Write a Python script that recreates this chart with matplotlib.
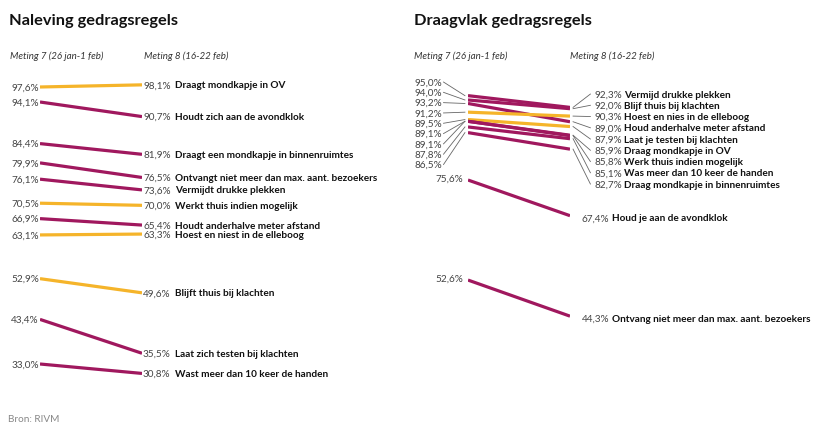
import matplotlib
matplotlib.use("Agg")
import matplotlib.pyplot as plt

plt.rcParams['font.family'] = ['Lato', 'DejaVu Sans']

PURPLE = '#A0185E'
YELLOW = '#F5B42A'
GREY = '#444444'

# Naleving gedragsregels (left panel)
nal_labels = ['Draagt mondkapje in OV', 'Houdt zich aan de avondklok',
              'Draagt een mondkapje in binnenruimtes',
              'Ontvangt niet meer dan max. aant. bezoekers',
              'Vermijdt drukke plekken', 'Werkt thuis indien mogelijk',
              'Houdt anderhalve meter afstand', 'Hoest en niest in de elleboog',
              'Blijft thuis bij klachten', 'Laat zich testen bij klachten',
              'Wast meer dan 10 keer de handen']
nal_m7 = [97.6, 94.1, 84.4, 79.9, 76.1, 70.5, 66.9, 63.1, 52.9, 43.4, 33.0]
nal_m8 = [98.1, 90.7, 81.9, 76.5, 73.6, 70.0, 65.4, 63.3, 49.6, 35.5, 30.8]
nal_kleur = ['y', 'p', 'p', 'p', 'p', 'y', 'p', 'y', 'y', 'p', 'p']

# Draagvlak gedragsregels (right panel)
dv_labels = ['Vermijd drukke plekken', 'Blijf thuis bij klachten',
             'Houd anderhalve meter afstand', 'Hoest en nies in de elleboog',
             'Laat je testen bij klachten', 'Draag mondkapje in OV',
             'Werk thuis indien mogelijk', 'Was meer dan 10 keer de handen',
             'Draag mondkapje in binnenruimtes', 'Houd je aan de avondklok',
             'Ontvang niet meer dan max. aant. bezoekers']
dv_m7 = [95.0, 94.0, 93.2, 91.2, 89.5, 89.1, 89.1, 87.8, 86.5, 75.6, 52.6]
dv_m8 = [92.3, 92.0, 89.0, 90.3, 87.9, 85.9, 85.8, 85.1, 82.7, 67.4, 44.3]
dv_kleur = ['p', 'p', 'p', 'y', 'y', 'p', 'p', 'p', 'p', 'p', 'p']

kleuren = {'p': PURPLE, 'y': YELLOW}


def pct(v):
    return f'{v:.1f}%'.replace('.', ',')


W, H = 817, 427
fig = plt.figure(figsize=(W / 100, H / 100), dpi=100)


def ftext(x, y, s, **kw):
    fig.text(x / W, 1 - y / H, s, **kw)


def new_ax(x0, x1, ytop, ybot):
    ax = fig.add_axes([x0 / W, 1 - ybot / H, (x1 - x0) / W, (ybot - ytop) / H])
    ax.set_xlim(0, 1)
    ax.set_ylim(25, 100)
    ax.axis('off')
    return ax


def note(ax, s, xy, dx, dy, **kw):
    ax.annotate(s, xy, xytext=(dx, dy), textcoords='offset pixels',
                va='center', fontsize=7.2, annotation_clip=False, **kw)


# left panel
ax1 = new_ax(40, 142, 77.7, 399.3)
for lab, a, b, k in zip(nal_labels, nal_m7, nal_m8, nal_kleur):
    ax1.plot([0, 1], [a, b], color=kleuren[k], lw=2.3, solid_capstyle='butt')
    note(ax1, pct(a), (0, a), -1, 0, ha='right', color=GREY)
    note(ax1, pct(b), (1, b), 1, 0, ha='left', color=GREY)
    note(ax1, lab, (1, b), 33, 0, ha='left', fontweight='bold', color='#111111')

# right panel: the tight cluster gets spread-out labels with leader lines
ax2 = new_ax(468, 570, 74.9, 401.1)
n_cl = 9
lab_l0, gap_l = 98.13, 2.37
lab_r0, gap_r = 95.37, 2.586
rang_l = sorted(range(n_cl), key=lambda j: -dv_m7[j])
rang_r = sorted(range(n_cl), key=lambda j: -dv_m8[j])
for i, (lab, a, b, k) in enumerate(zip(dv_labels, dv_m7, dv_m8, dv_kleur)):
    ax2.plot([0, 1], [a, b], color=kleuren[k], lw=2.3, solid_capstyle='butt')
    if i < n_cl:
        yl = lab_l0 - rang_l.index(i) * gap_l
        yr = lab_r0 - rang_r.index(i) * gap_r
        ax2.plot([-0.24, -0.03], [yl, a], color='#666666', lw=0.6, clip_on=False)
        ax2.plot([1.03, 1.2], [b, yr], color='#666666', lw=0.6, clip_on=False)
        note(ax2, pct(a), (-0.25, yl), 0, 0, ha='right', color=GREY)
        note(ax2, pct(b), (1.2, yr), 4, 0, ha='left', color=GREY)
        note(ax2, lab, (1.2, yr), 34, 0, ha='left', fontweight='bold', color='#111111')
    else:
        note(ax2, pct(a), (0, a), -5, 2, ha='right', color=GREY)
        note(ax2, pct(b), (1, b), 12, -2, ha='left', color=GREY)
        note(ax2, lab, (1, b), 42, -2, ha='left', fontweight='bold', color='#111111')

# titles and headers
ftext(9, 21, 'Naleving gedragsregels', fontsize=11.8, fontweight='bold', va='center', color='#111111')
ftext(414, 21, 'Draagvlak gedragsregels', fontsize=11.8, fontweight='bold', va='center', color='#111111')
for x0, s in [(10, 'Meting 7 (26 jan-1 feb)'), (144, 'Meting 8 (16-22 feb)'),
              (414, 'Meting 7 (26 jan-1 feb)'), (570, 'Meting 8 (16-22 feb)')]:
    ftext(x0, 56, s, fontsize=7, style='italic', va='center', color='#333333')
ftext(8, 420, 'Bron: RIVM', fontsize=7.2, va='center', color='#888888')

fig.savefig('out.png', dpi=100, facecolor='white')
